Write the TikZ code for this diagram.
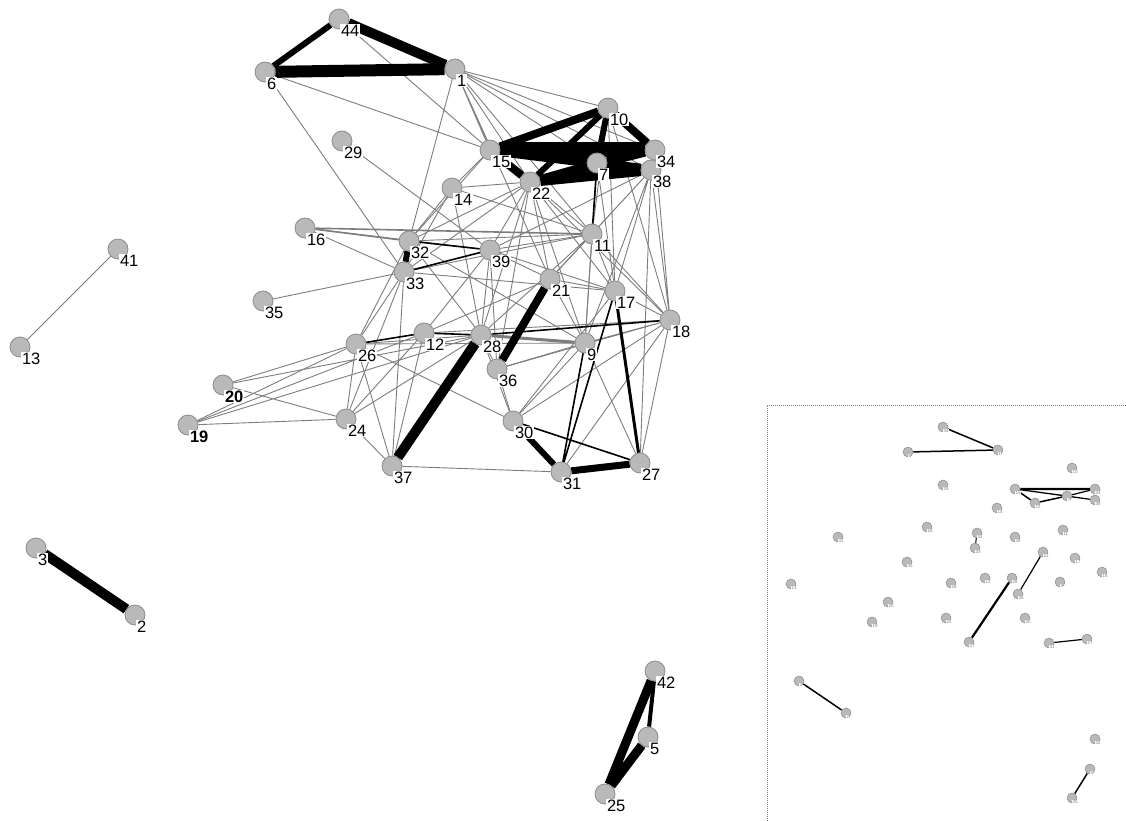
\documentclass[tikz,border=0pt]{standalone}
\usepackage{fontspec}
\setmainfont{Liberation Sans}
\usetikzlibrary{backgrounds}

\definecolor{nodegray}{RGB}{185,185,185}
\definecolor{rimgray}{RGB}{140,140,140}
\definecolor{tiegray}{RGB}{125,125,125}

\begin{document}
\begin{tikzpicture}[
  x=1pt, y=-1pt,
  actor/.style={circle, fill=nodegray, draw=rimgray, line width=0.8pt, minimum size=20pt, inner sep=0pt},
  mini/.style={circle, fill=nodegray, draw=rimgray, line width=0.5pt, minimum size=10pt, inner sep=0pt},
  tag/.style={fill=white, inner sep=0.8pt, anchor=north west, font=\fontsize{16.5}{18}\selectfont},
  minitag/.style={fill=white, inner sep=0.3pt, anchor=north west, text=gray, font=\fontsize{4.5}{5}\selectfont},
  weak/.style={draw=tiegray, line width=0.9pt},
  mid/.style={draw=black, line width=1.6pt},
  tie/.style={draw=black, line width=#1}
]
\useasboundingbox (0,0) rectangle (1126,821);

% main network
\node[actor] (n44) at (339,19) {};
\node[actor] (n6) at (265,72) {};
\node[actor] (n1) at (455,69) {};
\node[actor] (n10) at (608,108) {};
\node[actor] (n29) at (342,141) {};
\node[actor] (n15) at (490,150) {};
\node[actor] (n34) at (655,150) {};
\node[actor] (n7) at (597,163) {};
\node[actor] (n38) at (651,170) {};
\node[actor] (n22) at (530,182) {};
\node[actor] (n14) at (452,188) {};
\node[actor] (n16) at (305,228) {};
\node[actor] (n32) at (409,241) {};
\node[actor] (n11) at (592,234) {};
\node[actor] (n39) at (490,250) {};
\node[actor] (n33) at (404,272) {};
\node[actor] (n21) at (550,279) {};
\node[actor] (n35) at (263,301) {};
\node[actor] (n17) at (615,291) {};
\node[actor] (n18) at (670,320) {};
\node[actor] (n26) at (356,344) {};
\node[actor] (n12) at (424,333) {};
\node[actor] (n28) at (481,335) {};
\node[actor] (n9) at (585,343) {};
\node[actor] (n36) at (497,369) {};
\node[actor] (n20) at (223,385) {};
\node[actor] (n19) at (188,425) {};
\node[actor] (n24) at (346,419) {};
\node[actor] (n30) at (513,421) {};
\node[actor] (n37) at (392,466) {};
\node[actor] (n31) at (561,472) {};
\node[actor] (n27) at (640,463) {};
\node[actor] (n41) at (118,249) {};
\node[actor] (n13) at (20,347) {};
\node[actor] (n3) at (36,548) {};
\node[actor] (n2) at (135,615) {};
\node[actor] (n42) at (655,671) {};
\node[actor] (n5) at (648,737) {};
\node[actor] (n25) at (605,794) {};

\foreach \n in {44,6,1,10,29,15,34,7,38,22,14,16,32,11,39,33,21,35,17,18,26,12,28,9,36,24,30,37,31,27,41,13,3,2,42,5,25}
  \node[tag] at ([xshift=1pt,yshift=-5pt]n\n.center) {\n};
\node[tag, font=\fontsize{16.5}{18}\selectfont\bfseries] at ([xshift=1pt,yshift=-5pt]n20.center) {20};
\node[tag, font=\fontsize{16.5}{18}\selectfont\bfseries] at ([xshift=1pt,yshift=-5pt]n19.center) {19};

\begin{scope}[on background layer]
% thin ties
\draw[weak] (n1)--(n10) (n1)--(n34) (n1)--(n38) (n1)--(n7) (n1)--(n11) (n1)--(n22)
  (n1)--(n15) (n1)--(n21) (n1)--(n32) (n44)--(n15) (n6)--(n15) (n6)--(n33) (n29)--(n39);
\draw[weak] (n14)--(n15) (n14)--(n22) (n14)--(n32) (n14)--(n33) (n14)--(n11) (n14)--(n28)
  (n16)--(n33) (n16)--(n39);
\draw[weak] (n32)--(n11) (n32)--(n22) (n32)--(n15) (n32)--(n28) (n32)--(n9) (n32)--(n26);
\draw[weak] (n33)--(n35) (n33)--(n26) (n33)--(n37) (n33)--(n22) (n33)--(n17) (n33)--(n24) (n33)--(n11);
\draw[weak] (n39)--(n11) (n39)--(n22) (n39)--(n17) (n39)--(n12) (n39)--(n21) (n39)--(n28) (n39)--(n36);
\draw[weak] (n22)--(n11) (n22)--(n21) (n22)--(n17) (n22)--(n9) (n22)--(n28) (n22)--(n18) (n22)--(n36);
\draw[weak] (n10)--(n11) (n10)--(n17) (n10)--(n18)
  (n11)--(n17) (n11)--(n9) (n11)--(n21) (n11)--(n18) (n11)--(n28);
\draw[weak] (n38)--(n18) (n38)--(n17) (n38)--(n21) (n38)--(n11) (n38)--(n9) (n38)--(n39) (n38)--(n27)
  (n34)--(n18) (n7)--(n17) (n7)--(n9);
\draw[weak] (n21)--(n17) (n21)--(n9) (n21)--(n12) (n17)--(n18) (n17)--(n30);
\draw[weak] (n18)--(n9) (n18)--(n12) (n18)--(n27) (n18)--(n31) (n18)--(n30) (n18)--(n36);
\draw[weak] (n12)--(n24) (n12)--(n19) (n12)--(n37)
  (n28)--(n26) (n28)--(n20) (n28)--(n24) (n28)--(n36) (n28)--(n30);
\draw[weak] (n26)--(n20) (n26)--(n19) (n26)--(n24) (n26)--(n37) (n26)--(n30) (n26)--(n9);
\draw[weak] (n9)--(n30) (n9)--(n27) (n9)--(n36) (n20)--(n24) (n19)--(n24) (n19)--(n28)
  (n24)--(n37) (n36)--(n30) (n37)--(n31) (n41)--(n13);
% medium ties
\draw[mid] (n32)--(n39) (n33)--(n39) (n30)--(n27) (n9)--(n31) (n17)--(n31)
  (n12)--(n28) (n26)--(n12) (n28)--(n18) (n7)--(n11);
\draw[mid, draw=tiegray] (n16)--(n32) (n16)--(n11);
\draw[tie=3pt, draw=tiegray] (n28)--(n9);
% strong ties
\draw[tie=6pt] (n44)--(n6);
\draw[tie=10pt] (n44)--(n1);
\draw[tie=12pt] (n6)--(n1);
\draw[tie=8pt] (n10)--(n15) (n10)--(n34);
\draw[tie=6pt] (n10)--(n22) (n10)--(n7);
\draw[tie=15pt] (n15)--(n34);
\draw[tie=10pt] (n15)--(n38) (n15)--(n7) (n22)--(n38);
\draw[tie=8pt] (n15)--(n22) (n22)--(n7) (n22)--(n34);
\draw[tie=7pt] (n7)--(n34) (n7)--(n38);
\draw[tie=6pt] (n32)--(n33) (n30)--(n31);
\draw[tie=10pt] (n28)--(n37);
\draw[tie=8pt] (n21)--(n36);
\draw[tie=7pt] (n31)--(n27);
\draw[tie=3pt] (n17)--(n27);
\draw[tie=10pt] (n3)--(n2);
\draw[tie=9pt] (n42)--(n25) (n5)--(n25);
\draw[tie=4pt] (n42)--(n5);
\end{scope}

% inset
\draw[draw=gray, dash pattern=on 1pt off 1pt] (1126,405) -- (767,405) -- (767,821);
\foreach \n/\x/\y in {44/943/427, 6/908/452, 1/998/450, 10/1072/468, 29/943/485,
  15/1015/489, 34/1095/489, 7/1067/496, 38/1095/500, 22/1035/503, 14/997/508,
  16/927/527, 32/977/533, 11/1063/530, 39/1015/537, 33/975/548, 21/1043/552,
  41/838/537, 35/907/562, 17/1075/558, 18/1102/572, 13/791/584, 26/951/583,
  12/985/578, 28/1012/578, 9/1060/582, 36/1018/594, 20/888/602, 19/872/622,
  24/946/618, 30/1025/618, 37/969/642, 31/1049/643, 27/1087/639, 3/799/681,
  2/846/713, 42/1095/739, 5/1090/769, 25/1072/798}
  \node[mini] (m\n) at (\x,\y) {};
\foreach \n in {44,6,1,10,29,15,34,7,38,22,14,16,32,11,39,33,21,41,35,17,18,13,26,12,28,9,36,20,19,24,30,37,31,27,3,2,42,5,25}
  \node[minitag] at ([xshift=0pt,yshift=-2pt]m\n.center) {\n};

\begin{scope}[on background layer]
\draw[tie=1.5pt] (m44)--(m1) (m6)--(m1) (m15)--(m22) (m22)--(m7) (m3)--(m2) (m5)--(m25);
\draw[tie=2.2pt] (m15)--(m34) (m28)--(m37);
\draw[tie=1.2pt] (m15)--(m38) (m15)--(m7) (m7)--(m38) (m7)--(m34) (m36)--(m21) (m31)--(m27);
\draw[tie=1pt] (m32)--(m33);
\end{scope}
\end{tikzpicture}
\end{document}
